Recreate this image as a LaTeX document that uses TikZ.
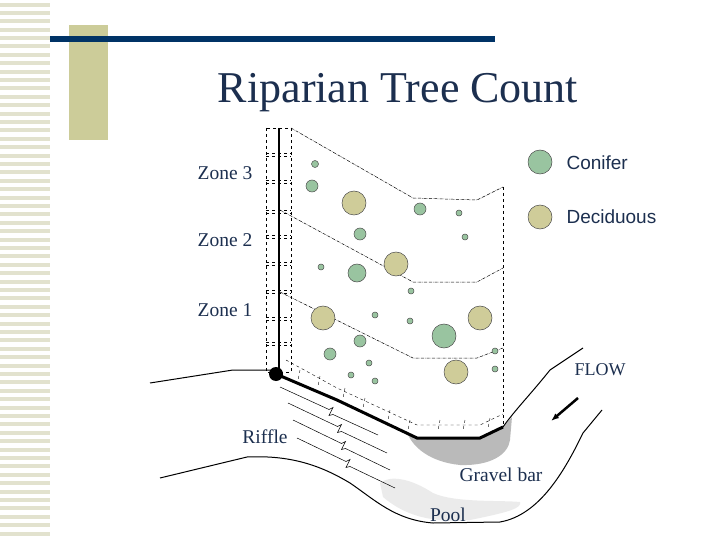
\documentclass[tikz,border=0pt]{standalone}
\usepackage{fontspec}
\setmainfont{Liberation Serif}
\newfontfamily\legendfont{Liberation Sans}
\usetikzlibrary{arrows.meta,calc}
\definecolor{navy}{HTML}{003366}
\definecolor{ink}{HTML}{1C2F4F}
\definecolor{tan}{HTML}{CCCC99}
\definecolor{stripe}{HTML}{E2E2CE}
\definecolor{conifer}{HTML}{99C4A0}
\definecolor{decid}{HTML}{CFCC99}
\tikzset{
  lbl/.style={text=ink, font=\fontsize{19.5}{21}\selectfont},
  cf/.style={fill=conifer, draw=black!70, line width=0.5pt},
  dc/.style={fill=decid, draw=black!70, line width=0.5pt},
  zone/.style={densely dash dot, line width=0.5pt},
  grid/.style={dashed, line width=0.4pt}
}
\begin{document}
\begin{tikzpicture}[x=1pt, y=-1pt]
  \useasboundingbox (0,0) rectangle (720,540);
  % side strip and title bar
  \foreach \y in {3,11,19,28,36,44,53,61,70,78,86,95,103,112,120,128,137,145,154,162,170,179,187,196,204,212,221,229,238,246,254,263,271,280,288,296,305,313,322,330,338,347,355,364,372,380,389,397,406,414,422,431,439,448,456,464,473,481,490,498,506,515,523,532}
    \fill[stripe] (0,\y) rectangle (50,\y+4);
  \fill[tan] (69,25) rectangle (108,140);
  \fill[navy] (50,36) rectangle (495,42);
  \node[text=ink, font=\fontsize{44}{48}\selectfont] (title) at (398,93) {Riparian Tree Count};
  % water features
  \fill[black!8] (380,483) .. controls (390,475) and (410,478) .. (433,493)
    .. controls (455,503) and (500,500) .. (520,502) .. controls (522,508) and (510,512) .. (470,520)
    .. controls (440,522) and (410,520) .. (383,497) -- cycle;
  \fill[black!27] (407,432) .. controls (412,447) and (430,462) .. (460,465)
    .. controls (490,466) and (508,455) .. (510,440) -- (512,417) -- (503,427) -- (480,438) -- (417,438) -- cycle;
  \draw[line width=1pt] (150,383) -- (233,370) -- (277,370);
  \draw[line width=1pt] (503,427) .. controls (515,410) and (530,395) .. (550,370) -- (583,348);
  \draw[line width=1pt] (160,478) -- (247,457) .. controls (290,455) and (320,465) .. (350,483)
    .. controls (375,500) and (395,520) .. (433,523) -- (500,522) .. controls (540,515) and (565,470) .. (583,433) -- (602,410);
  \draw[line width=3pt] (276,374) -- (337,400) -- (417,438) -- (480,438) -- (503,427);
  % riffle
  \foreach \sx/\sy/\ex/\ey in {280/387/378/432, 288/403/387/450, 293/420/390/467, 297/438/395/485}
    \draw[line width=0.5pt] (\sx,\sy) -- ($(\sx,\sy)!0.5!(\ex,\ey)$) -- ++(4,-2) -- ++(-4,8) -- ++(4,-1) -- (\ex,\ey+3);
  % grid of plots
  \draw[grid] (266,128) rectangle (291,372);
  \draw[grid] (278,128) -- (278,370);
  \foreach \y in {153,180,210,235,262,290,317,342}
    \draw[grid] (266,\y) -- (291,\y) (266,\y+3) -- (291,\y+3);
  \draw[grid] (286,360) -- (337,388) -- (417,425) -- (480,425) -- (503,414);
  \foreach \x/\y in {300/380,320/386,345/398,365/408,390/420,410/430,440/430,465/430,490/428}
    \draw[grid] (\x,\y-10) -- (\x-2,\y);
  % zone boundaries
  \draw[zone] (291,128) -- (413,198) -- (477,200) -- (503,187);
  \draw[zone] (280,210) -- (413,282) -- (477,282) -- (503,268);
  \draw[zone] (280,292) -- (413,358) -- (477,358) -- (503,348);
  \draw[grid] (503,187) -- (503,427);
  \draw[line width=2.5pt] (279,128) -- (279,374);
  \fill (276,374) circle (7);
  % trees
  \foreach \x/\y/\r/\t in {315/164/3.5/cf, 312/186/6/cf, 354/203/12/dc, 420/209/6/cf, 459/213/3/cf,
      360/234/6/cf, 465/237/3/cf, 396/264/12/dc, 321/267/3/cf, 357/273/9/cf, 411/291/3/cf,
      323/318/12/dc, 375/315/3/cf, 410/321/3/cf, 444/336/12/cf, 480/318/12/dc, 360/341/6/cf,
      330/354/6/cf, 369/363/3/cf, 495/351/3/cf, 456/372/12/dc, 495/369/3/cf, 351/375/3/cf, 375/381/3/cf}
    \draw[\t] (\x,\y) circle (\r);
  % legend and labels
  \draw[cf] (540,162) circle (12);
  \draw[dc] (540,217) circle (12);
  \node[lbl, anchor=west, font=\legendfont\fontsize{19}{21}\selectfont, text=ink] (conifer) at (563,163) {Conifer};
  \node[lbl, anchor=west, font=\legendfont\fontsize{19}{21}\selectfont, text=ink] (decid) at (563,217) {Deciduous};
  \node[lbl] (z3) at (225,173) {Zone 3};
  \node[lbl] (z2) at (225,240) {Zone 2};
  \node[lbl] (z1) at (225,310) {Zone 1};
  \node[lbl, font=\fontsize{18}{20}\selectfont] (flow) at (600,370) {FLOW};
  \draw[-{Latex[length=8pt,width=6pt]}, line width=2.5pt] (578,398) -- (551,421);
  \node[lbl] (riffle) at (265,437) {Riffle};
  \node[lbl] (gravel) at (501,475) {Gravel bar};
  \node[lbl] (pool) at (448,515) {Pool};
\end{tikzpicture}
\end{document}
